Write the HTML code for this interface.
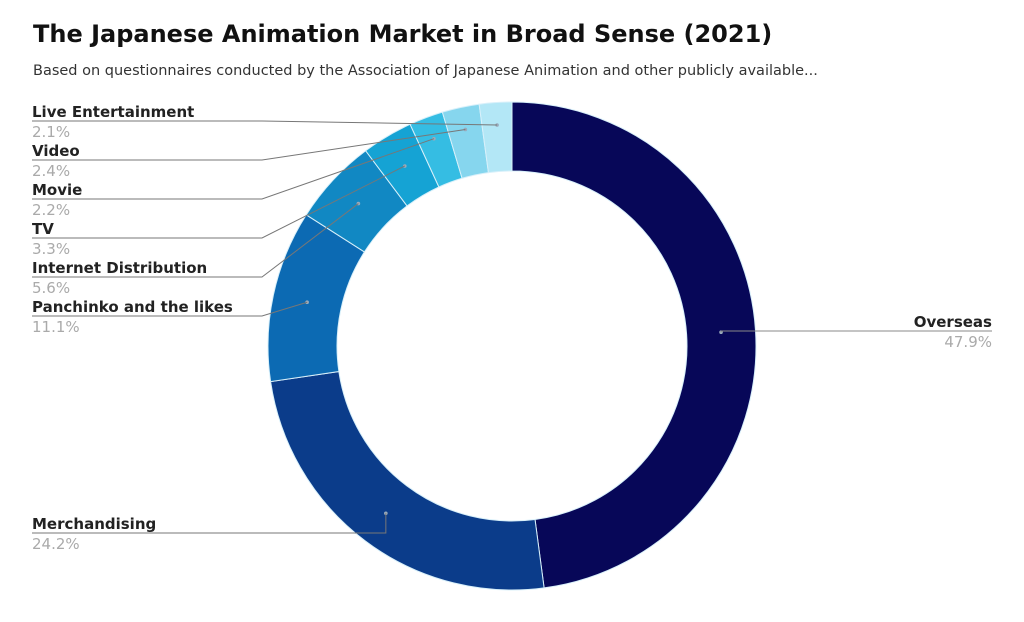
<!DOCTYPE html>
<html><head><meta charset="utf-8">
<style>
body{margin:0;background:#fff;width:1024px;height:622px;overflow:hidden;font-family:"DejaVu Sans","Liberation Sans",sans-serif}
#title{position:absolute;left:33px;top:20px;font-size:24px;font-weight:bold;color:#111;margin:0}
#sub{position:absolute;left:33px;top:63px;font-size:14.5px;color:#333}
svg{position:absolute;left:0;top:0}
</style></head><body>
<h1 id="title">The Japanese Animation Market in Broad Sense (2021)</h1>
<div id="sub">Based on questionnaires conducted by the Association of Japanese Animation and other publicly available...</div>
<svg id="chart" width="1024" height="622"></svg>
<script>
const categories=["Overseas","Merchandising","Panchinko and the likes","Internet Distribution","TV","Movie","Video","Live Entertainment"];
const values=[47.9,24.2,11.1,5.6,3.3,2.2,2.4,2.1];
const labels=["47.9%","24.2%","11.1%","5.6%","3.3%","2.2%","2.4%","2.1%"];
const colors=["#070758","#0b3c8a","#0c6ab3","#1188c3","#15a3d4","#35bde3","#86d6ee","#b3e7f6"];
const svg=document.getElementById('chart');
const NS="http://www.w3.org/2000/svg";
const cx=512,cy=346,R=244,r=175;
// first slice drawn at its share of 100%, remaining slices fill the rest
const restTotal=values.slice(1).reduce((a,b)=>a+b,0);
function ang(i,v){return i===0? v/100*2*Math.PI : v/restTotal*(2*Math.PI-values[0]/100*2*Math.PI);}
function pt(a,rad){return [cx+rad*Math.sin(a),cy-rad*Math.cos(a)];}
function mk(t,at){const e=document.createElementNS(NS,t);for(const k in at)e.setAttribute(k,at[k]);svg.appendChild(e);return e;}
const leftY={7:121,6:160,5:199,4:238,3:277,2:316,1:533};
let a=0;
values.forEach((v,i)=>{
  const a0=a;a+=ang(i,v);const a1=a;
  const large=(a1-a0)>Math.PI?1:0;
  const p0=pt(a0,R),p1=pt(a1,R),q1=pt(a1,r),q0=pt(a0,r);
  const p=mk('path',{d:`M${p0[0]},${p0[1]}A${R},${R} 0 ${large} 1 ${p1[0]},${p1[1]}L${q1[0]},${q1[1]}A${r},${r} 0 ${large} 0 ${q0[0]},${q0[1]}Z`,fill:colors[i],stroke:"#d8f0fa","stroke-width":1});
  
  
  const am=(a0+a1)/2;const m=pt(am,(R+r)/2+(i>=5?12:0));
  mk('circle',{cx:m[0],cy:m[1],r:1.8,fill:"#9ab"});
  let ly,lx1,lx2,tx,anchor;
  if(i===0){ly=331;lx1=m[0];lx2=992;tx=992;anchor="end";mk('line',{x1:m[0],y1:m[1],x2:lx1,y2:ly,stroke:"#888"});}
  else{ly=leftY[i];lx1=32;lx2=(i===1)?m[0]:262;tx=32;anchor="start";
    mk('polyline',{points:`${lx1},${ly} ${lx2},${ly} ${m[0]},${m[1]}`,fill:"none",stroke:"#777","stroke-width":1});}
  if(i===0)mk('line',{x1:lx1,y1:ly,x2:lx2,y2:ly,stroke:"#888"});
  const n=mk('text',{x:tx,y:ly-4,"text-anchor":anchor,"font-size":"15","font-weight":"bold",fill:"#222","font-family":"DejaVu Sans, Liberation Sans, sans-serif"});
  n.textContent=categories[i];
  
  
  const pc=mk('text',{x:tx,y:ly+16,"text-anchor":anchor,"font-size":"15",fill:"#aaa","font-family":"DejaVu Sans, Liberation Sans, sans-serif"});
  pc.textContent=labels[i];
  
  
});
</script>
</body></html>
